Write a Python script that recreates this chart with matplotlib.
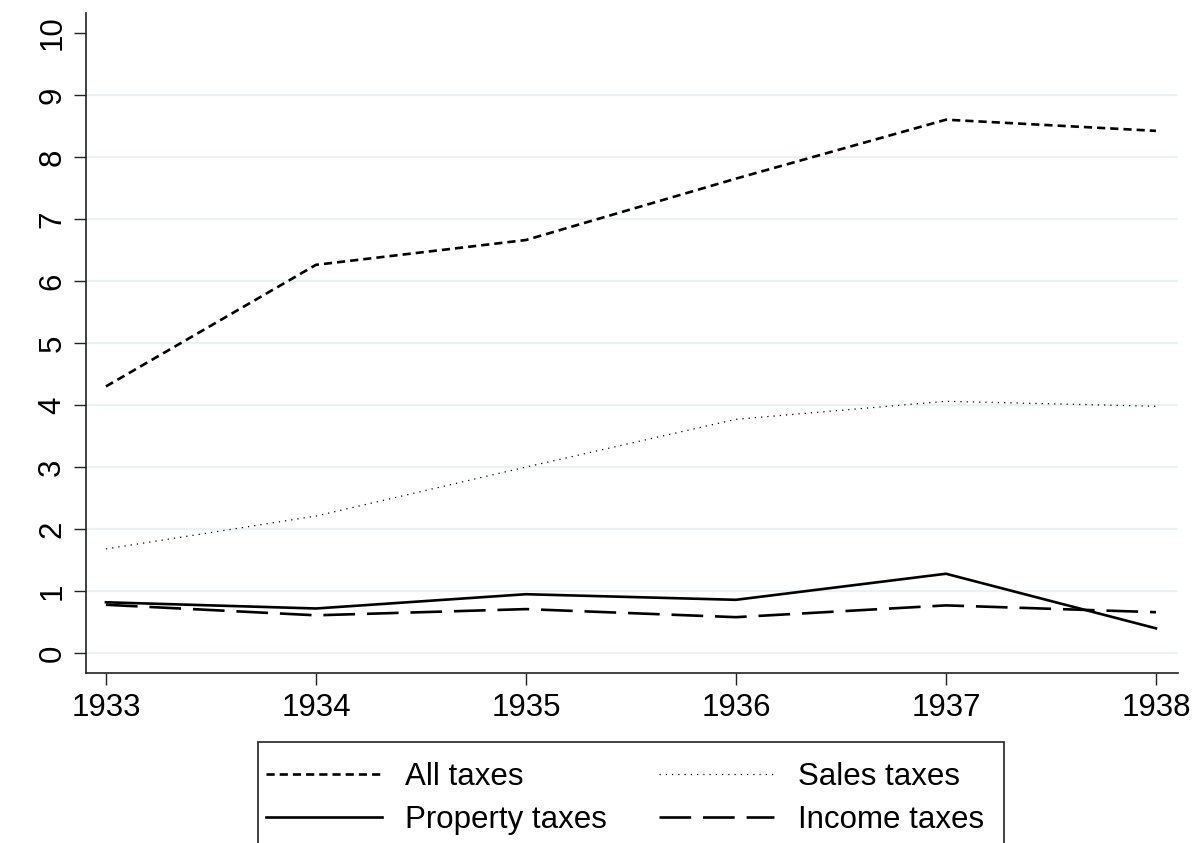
import matplotlib
matplotlib.use("Agg")
import matplotlib.pyplot as plt
from matplotlib.patches import Rectangle

plt.rcParams['font.family'] = ['Liberation Sans', 'DejaVu Sans']

years = [1933, 1934, 1935, 1936, 1937, 1938]
all_taxes = [4.30, 6.26, 6.66, 7.65, 8.60, 8.42]
sales_taxes = [1.68, 2.21, 3.00, 3.77, 4.06, 3.98]
property_taxes = [0.82, 0.72, 0.95, 0.86, 1.28, 0.40]
income_taxes = [0.78, 0.61, 0.71, 0.58, 0.77, 0.66]
y_ticks = list(range(0, 11))

fig = plt.figure(figsize=(12.04, 8.43), dpi=100)
ax = fig.add_axes([86 / 1204, 170 / 843, (1178 - 86) / 1204, (830 - 170) / 843])

for y in y_ticks[:-1]:
    ax.axhline(y, color='#eaf2f3', lw=1.6, zorder=0)

l_all, = ax.plot(years, all_taxes, color='black', lw=1.9, dashes=(3.1, 1.9), label='All taxes')
l_sales, = ax.plot(years, sales_taxes, color='black', lw=0.9, dashes=(1, 4), label='Sales taxes')
l_prop, = ax.plot(years, property_taxes, color='black', lw=1.9, label='Property taxes')
l_inc, = ax.plot(years, income_taxes, color='black', lw=1.9, dashes=(12, 4.5), label='Income taxes')

ax.set_xlim(1932.905, 1938.105)
ax.set_ylim(-0.32, 10.32)
ax.set_xticks(years)
ax.set_yticks(y_ticks)
ax.tick_params(axis='both', direction='out', length=8.5, width=1, labelsize=22.5, color='#222222')
ax.tick_params(axis='x', pad=6)
ax.tick_params(axis='y', pad=5)
plt.setp(ax.get_yticklabels(), rotation=90, va='center')
for side in ['top', 'right']:
    ax.spines[side].set_visible(False)
for side in ['left', 'bottom']:
    ax.spines[side].set_color('#222222')
    ax.spines[side].set_linewidth(1.2)

# legend box runs off the bottom edge of the figure
fig.patches.append(Rectangle((258 / 1204, -0.05), (1004 - 258) / 1204, 0.05 + (843 - 742) / 843,
                             transform=fig.transFigure, fill=False, edgecolor='#222222', lw=1.2))
# matplotlib fills legend columns first, so order for row-wise reading
handles = [l_all, l_prop, l_sales, l_inc]
labels = [h.get_label() for h in handles]
fig.legend(handles, labels, ncol=2, loc='upper left', bbox_to_anchor=(266 / 1204, 1 - 762 / 843),
           frameon=False, fontsize=22.5, handlelength=3.7, handletextpad=0.75, columnspacing=1.65,
           labelspacing=0.42, borderpad=0.0, borderaxespad=0.0)

fig.savefig('out.png', dpi=100)
